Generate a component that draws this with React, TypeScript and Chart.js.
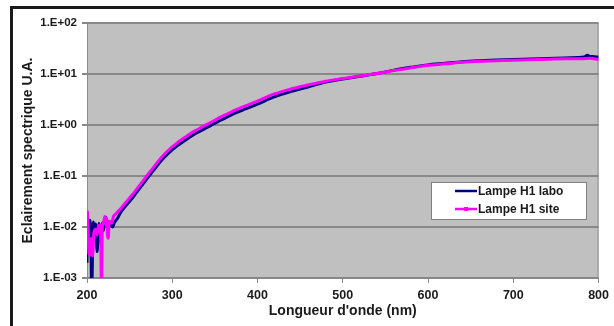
import React, { useEffect, useRef } from "react";
import { Chart, registerables } from "chart.js";

Chart.register(...registerables);

// ---- Data ----
const seriesLabels = ["Lampe H1 labo", "Lampe H1 site"];

const waveLabo = [
  200, 200.5, 201.5, 202.3, 203.5, 204.5, 205.5, 206.5, 207.4, 208.5, 210, 211, 212, 213, 214, 215, 216, 217, 218, 219,
  220, 222, 223, 224, 226, 228, 230, 232, 234, 236, 240, 245, 250, 255, 260, 266, 270, 278, 286, 295,
  305, 315, 325, 335, 345, 355, 365, 375, 385, 400, 418, 440, 460, 480, 500, 520, 540, 560, 580, 600,
  620, 640, 660, 680, 700, 720, 740, 760, 775, 783, 787, 790, 795, 800,
];
const valLabo = [
  0.002, 0.0145, 0.008, 0.004, 0.0135, 0.006, 0.0005, 0.003, 0.0126, 0.009, 0.0115, 0.006, 0.0033, 0.008, 0.0118, 0.007, 0.0047, 0.009, 0.012, 0.0085,
  0.01, 0.0155, 0.012, 0.0105, 0.0125, 0.0108, 0.01, 0.012, 0.0135, 0.015, 0.02, 0.0255, 0.032, 0.0405, 0.0525, 0.071, 0.087, 0.129, 0.191, 0.275,
  0.38, 0.5, 0.645, 0.795, 0.975, 1.2, 1.45, 1.74, 2.04, 2.57, 3.47, 4.57, 5.62, 6.92, 7.94, 9.0, 10.2, 11.9, 13.5, 15.1,
  16.2, 17.4, 18.2, 18.8, 19.3, 19.7, 20.2, 20.6, 21.0, 21.5, 23.4, 22.0, 21.9, 21.4,
];

const waveSite = [
  200, 200.7, 201.3, 202.3, 203.5, 205, 206.5, 208, 210, 212, 213.5, 215, 216, 217, 218, 219, 220, 221, 222, 223,
  224, 225, 226, 228, 229, 231, 233, 235, 240, 245, 250, 255, 260, 266, 270, 278, 286, 295, 305, 315,
  325, 335, 345, 355, 365, 375, 385, 400, 418, 440, 460, 480, 500, 520, 540, 560, 580, 600, 620, 640,
  660, 680, 700, 720, 740, 760, 780, 790, 795, 800,
];
const valSite = [
  0.021, 0.018, 0.0085, 0.003, 0.0028, 0.006, 0.0027, 0.0075, 0.009, 0.007, 0.0105, 0.011, 0.0085, 0.0004, 0.0095, 0.012, 0.0135, 0.016, 0.011, 0.015,
  0.007, 0.006, 0.013, 0.0125, 0.0118, 0.016, 0.0175, 0.0191, 0.0234, 0.0295, 0.0372, 0.0468, 0.0603, 0.0813, 0.1, 0.148, 0.219, 0.316, 0.437, 0.575,
  0.741, 0.912, 1.12, 1.38, 1.66, 2.0, 2.34, 2.95, 3.98, 5.13, 6.17, 7.24, 8.13, 9.12, 10.2, 11.7, 13.2, 14.8, 15.8, 17.0,
  17.8, 18.2, 18.6, 19.1, 19.5, 20.0, 20.0, 20.4, 20.0, 19.1,
];

const yTickValues = [0.001, 0.01, 0.1, 1, 10, 100];
const yTickLabels = ["1.E-03", "1.E-02", "1.E-01", "1.E+00", "1.E+01", "1.E+02"];
const xMin = 200;
const xMax = 800;
const xStep = 100;
const xTitle = "Longueur d'onde (nm)";
const yTitle = "Eclairement spectrique U.A.";

const FONT = "'Liberation Sans', Arial, sans-serif";
const BLUE = "#000080";
const PINK = "#FF00FF";

export default function App() {
  const ref = useRef<HTMLCanvasElement | null>(null);

  useEffect(() => {
    const canvas = ref.current;
    if (!canvas) return;

    const bgPlugin = {
      id: "plotBg",
      beforeDraw(chart: any) {
        const { ctx, chartArea: a } = chart;
        ctx.save();
        ctx.fillStyle = "#FFFFFF";
        ctx.fillRect(0, 0, chart.width, chart.height);
        ctx.fillStyle = "#C0C0C0";
        ctx.fillRect(a.left, a.top, a.right - a.left, a.bottom - a.top);
        ctx.strokeStyle = "#8C8C8C";
        ctx.lineWidth = 1;
        ctx.strokeRect(a.left + 0.5, a.top + 0.5, a.right - a.left - 1, a.bottom - a.top - 1);
        ctx.restore();
      },
    };

    const legendPlugin = {
      id: "boxLegend",
      afterDraw(chart: any) {
        const { ctx } = chart;
        const x = 431, y = 182, w = 155, h = 37;
        ctx.save();
        ctx.fillStyle = "#FFFFFF";
        ctx.fillRect(x, y, w, h);
        ctx.strokeStyle = "#808080";
        ctx.lineWidth = 1;
        ctx.strokeRect(x + 0.5, y + 0.5, w, h);
        const colors = [BLUE, PINK];
        seriesLabels.forEach((lab, i) => {
          const ly = 191 + i * 18;
          ctx.strokeStyle = colors[i];
          ctx.lineWidth = 2.5;
          ctx.beginPath();
          ctx.moveTo(455, ly);
          ctx.lineTo(477, ly);
          ctx.stroke();
          if (i === 1) {
            ctx.fillStyle = PINK;
            ctx.fillRect(464, ly - 2, 4, 4);
          }
          ctx.fillStyle = "#1a1a1a";
          ctx.font = `bold 12px ${FONT}`;
          ctx.textAlign = "left";
          ctx.textBaseline = "middle";
          ctx.fillText(lab, 478, ly + 0.5);
        });
        ctx.restore();
      },
    };

    const chart = new Chart(canvas, {
      type: "line",
      data: {
        datasets: [
          {
            label: seriesLabels[0],
            data: waveLabo.map((x, i) => ({ x, y: valLabo[i] })),
            borderColor: BLUE,
            backgroundColor: BLUE,
            borderWidth: 3,
            pointRadius: 0,
            cubicInterpolationMode: "monotone",
            order: 1,
          },
          {
            label: seriesLabels[1],
            data: waveSite.map((x, i) => ({ x, y: valSite[i] })),
            borderColor: PINK,
            backgroundColor: PINK,
            borderWidth: 3,
            pointRadius: 0,
            cubicInterpolationMode: "monotone",
            order: 0,
          },
        ],
      },
      options: {
        responsive: false,
        animation: false,
        devicePixelRatio: 1,
        layout: { padding: { top: 23, right: 15, left: 0, bottom: 0 } },
        plugins: {
          legend: { display: false },
          tooltip: { enabled: false },
        },
        scales: {
          x: {
            type: "linear",
            min: xMin,
            max: xMax,
            afterFit(scale: any) {
              scale.height = 48;
            },
            ticks: {
              stepSize: xStep,
              padding: 5,
              color: "#1a1a1a",
              font: { family: FONT, size: 12.5, weight: "bold" },
            },
            grid: {
              drawOnChartArea: false,
              drawTicks: true,
              tickLength: 5,
              color: "#8C8C8C",
            },
            border: { display: false },
            title: {
              display: true,
              text: xTitle,
              color: "#1a1a1a",
              font: { family: FONT, size: 14, weight: "bold" },
              padding: { top: 0, bottom: 6 },
            },
          },
          y: {
            type: "logarithmic",
            min: yTickValues[0],
            max: yTickValues[yTickValues.length - 1],
            afterFit(scale: any) {
              scale.width = 87;
            },
            afterBuildTicks(scale: any) {
              scale.ticks = yTickValues.map((v) => ({ value: v }));
            },
            ticks: {
              padding: 5,
              color: "#1a1a1a",
              font: { family: FONT, size: 11.5, weight: "bold" },
              callback: (v: any) => {
                const idx = yTickValues.findIndex((t) => Math.abs(Math.log10(t) - Math.log10(Number(v))) < 1e-6);
                return idx >= 0 ? yTickLabels[idx] : "";
              },
            },
            grid: {
              color: "#888888",
              lineWidth: 2,
              tickLength: 5,
            },
            border: { display: false },
            title: {
              display: true,
              text: yTitle,
              color: "#1a1a1a",
              font: { family: FONT, size: 14, weight: "bold" },
              padding: { top: 20, bottom: 0 },
            },
          },
        },
      },
      plugins: [bgPlugin, legendPlugin],
    });

    return () => chart.destroy();
  }, []);

  return (
    <div style={{ position: "fixed", left: 0, top: 0, width: 614, height: 326, background: "#fff" }}>
      <canvas ref={ref} width={614} height={326} style={{ position: "absolute", left: 0, top: 0, width: 614, height: 326 }} />
      <div
        style={{
          position: "absolute",
          left: 10,
          top: 6,
          width: 604,
          height: 320,
          borderTop: "3px solid #1a1a1a",
          borderLeft: "3px solid #1a1a1a",
          boxSizing: "border-box",
          pointerEvents: "none",
        }}
      />
    </div>
  );
}
